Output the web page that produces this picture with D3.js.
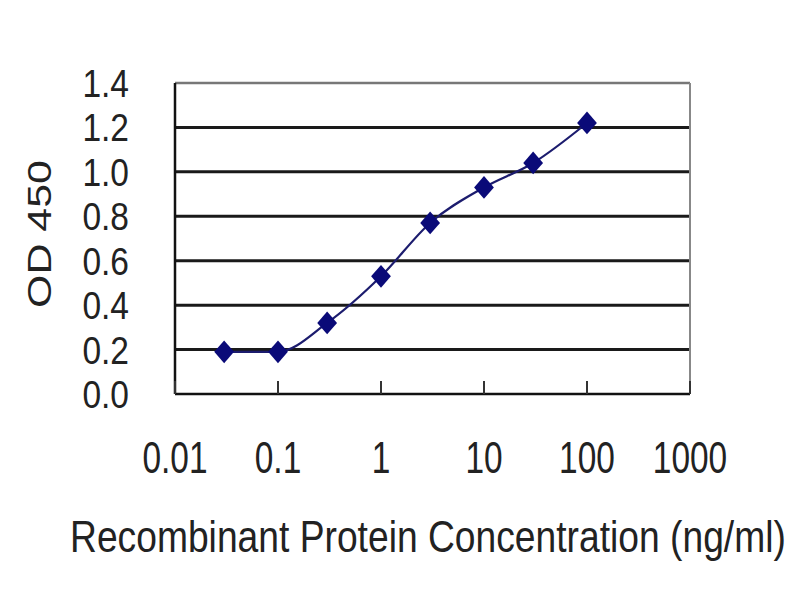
<!DOCTYPE html>
<html>
<head>
<meta charset="utf-8">
<script src="https://cdn.jsdelivr.net/npm/d3@7"></script>
<style>
    body { margin: 0; background: #fff; }
    text { font-family: "Liberation Sans Narrow", "Arial Narrow", "Liberation Sans", Arial, sans-serif; fill: #222; }
</style>
</head>
<body>
<div id="chart"></div>
<script>
// concentrations (ng/ml) and measured OD 450
var concentrations = [0.03, 0.1, 0.3, 1, 3, 10, 30, 100];
var odValues = [0.19, 0.19, 0.32, 0.53, 0.77, 0.93, 1.04, 1.22];
var xTicks = [0.01, 0.1, 1, 10, 100, 1000];
var xTickLabels = ["0.01", "0.1", "1", "10", "100", "1000"];
var yTicks = [0, 0.2, 0.4, 0.6, 0.8, 1.0, 1.2, 1.4];

function init() {
    var w = 800;
    var h = 600;
    var left = 175, right = 690, top = 83, bottom = 394;

    var xScale = d3.scaleLog()
        .domain([0.01, 1000])
        .range([left, right]);

    var yScale = d3.scaleLinear()
        .domain([0, 1.4])
        .range([bottom, top]);

    var svg = d3.select("#chart")
        .append("svg")
        .attr("width", w)
        .attr("height", h);

    // horizontal grid lines
    svg.selectAll("line.grid")
        .data(yTicks.slice(1, yTicks.length - 1))
        .enter()
        .append("line")
        .attr("class", "grid")
        .attr("x1", left)
        .attr("x2", right)
        .attr("y1", function(d) { return yScale(d); })
        .attr("y2", function(d) { return yScale(d); })
        .attr("stroke", "#1a1a1a")
        .attr("stroke-width", 3);

    // frame: top and right are grey, left and bottom dark
    svg.append("line")
        .attr("x1", left).attr("x2", right)
        .attr("y1", yScale(1.4)).attr("y2", yScale(1.4))
        .attr("stroke", "#777").attr("stroke-width", 2.5);
    svg.append("line")
        .attr("x1", right).attr("x2", right)
        .attr("y1", top).attr("y2", bottom)
        .attr("stroke", "#888").attr("stroke-width", 2);
    svg.append("line")
        .attr("x1", left).attr("x2", left)
        .attr("y1", top).attr("y2", bottom)
        .attr("stroke", "#111").attr("stroke-width", 2.5);
    svg.append("line")
        .attr("x1", left).attr("x2", right)
        .attr("y1", bottom).attr("y2", bottom)
        .attr("stroke", "#111").attr("stroke-width", 2.5);

    // x ticks point up into the plot
    svg.selectAll("line.xtick")
        .data(xTicks)
        .enter()
        .append("line")
        .attr("class", "xtick")
        .attr("x1", function(d) { return xScale(d); })
        .attr("x2", function(d) { return xScale(d); })
        .attr("y1", bottom)
        .attr("y2", bottom - 13)
        .attr("stroke", "#333")
        .attr("stroke-width", 2);

    // narrow lettering, squeezed horizontally
    svg.selectAll("text.xlab")
        .data(xTicks)
        .enter()
        .append("text")
        .attr("class", "xlab")
        .attr("transform", function(d) {
            return "translate(" + xScale(d) + ",473) scale(0.76,1)";
        })
        .attr("text-anchor", "middle")
        .style("font-size", "44px")
        .text(function(d, i) { return xTickLabels[i]; });

    svg.selectAll("text.ylab")
        .data(yTicks)
        .enter()
        .append("text")
        .attr("class", "ylab")
        .attr("transform", function(d) {
            return "translate(129," + yScale(d) + ") scale(0.86,1)";
        })
        .attr("dy", "0.36em")
        .attr("text-anchor", "end")
        .style("font-size", "39px")
        .text(function(d) { return d.toFixed(1); });

    // titles: squeeze to the width seen in the picture
    var xTitle = svg.append("text")
        .style("font-size", "44px")
        .text("Recombinant Protein Concentration (ng/ml)");
    var sx = 716 / xTitle.node().getComputedTextLength();
    xTitle.attr("transform", "translate(70,552) scale(" + sx + ",1)");

    var yTitle = svg.append("text")
        .attr("text-anchor", "middle")
        .style("font-size", "33px")
        .text("OD 450");
    var sy = 148 / yTitle.node().getComputedTextLength();
    yTitle.attr("transform", "translate(51,234) rotate(-90) scale(" + sy + ",1)");

    var points = concentrations.map(function(c, i) {
        return [xScale(c), yScale(odValues[i])];
    });

    var line = d3.line().curve(d3.curveMonotoneX);

    svg.append("path")
        .attr("d", line(points))
        .attr("fill", "none")
        .attr("stroke", "#1c1c6e")
        .attr("stroke-width", 2.2);

    var diamond = d3.symbol().type(d3.symbolDiamond2).size(250);

    svg.selectAll("path.pt")
        .data(points)
        .enter()
        .append("path")
        .attr("class", "pt")
        .attr("d", diamond)
        .attr("transform", function(d) {
            return "translate(" + d[0] + "," + d[1] + ") scale(1,1.15)";
        })
        .attr("fill", "#0a0a78");
}

window.onload = init;
</script>
</body>
</html>
